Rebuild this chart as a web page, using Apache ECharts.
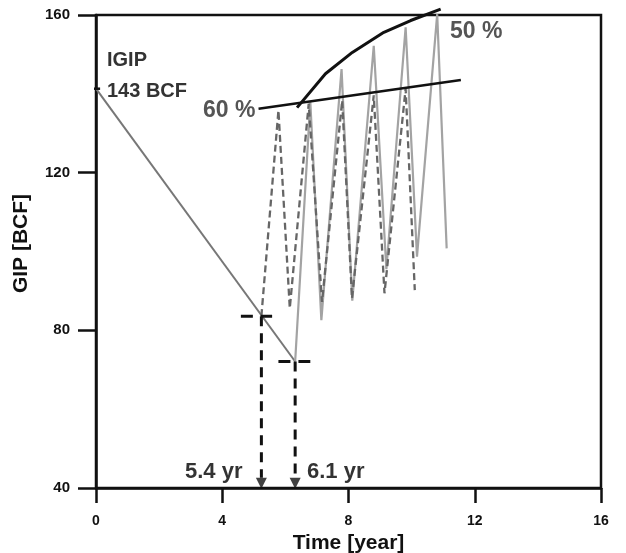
<!DOCTYPE html>
<html>
<head>
<meta charset="utf-8">
<script src="https://cdn.jsdelivr.net/npm/echarts@6/dist/echarts.min.js"></script>
<style>
  html, body { margin: 0; padding: 0; background: #fff; }
  #chart { width: 626px; height: 553px; }
</style>
</head>
<body>
<div id="chart"></div>
<script>
// values (time in years, GIP in BCF)
const igip = 141.3
const declineLine = [[0, igip], [6.31, 72.1]]
const cycles50 = [[6.31, 72.1], [6.79, 137.9], [7.14, 82.6], [7.78, 146.3], [8.12, 87.5], [8.8, 152.2], [9.2, 95.5], [9.81, 156.9], [10.17, 98.7], [10.81, 160.2], [11.11, 100.8]]
const cycles60 = [[5.24, 83.6], [5.78, 135.8], [6.14, 85.6], [6.74, 137.5], [7.16, 87.2], [7.8, 138.3], [8.11, 88.1], [8.8, 139.6], [9.14, 89.4], [9.81, 141.3], [10.1, 90.2]]
const trend60 = [[5.15, 136.2], [11.56, 143.5]]
const trend50 = [[6.37, 136.5], [7.27, 145.1], [8.12, 150.5], [9.12, 155.6], [9.97, 158.6], [10.92, 161.5]]
const startTimes = [5.24, 6.31]
const startGip = [83.6, 72.1]
const crossHalfLeft = [0.65, 0.53]
const crossHalfRight = [0.34, 0.48]
const igipMark = [[-0.41, igip], [0.13, igip]]
const xTicks = [0, 16, 4]
const yTicks = [40, 160, 40]

const font = 'Liberation Sans, Arial, sans-serif'
const chart = echarts.init(document.getElementById('chart'))

function plain(name, data, color, width, type, clip) {
  return {
    name: name,
    type: 'line',
    data: data,
    symbol: 'none',
    clip: clip,
    silent: true,
    animation: false,
    lineStyle: { color: color, width: width, type: type }
  }
}

const series = [
  plain('decline', declineLine, '#777', 2, 'solid', true),
  plain('cycles 50', cycles50, '#a3a3a3', 2.2, 'solid', false),
  plain('cycles 60', cycles60, '#666', 2.3, [7, 4], true),
  plain('trend 60', trend60, '#111', 2.5, 'solid', false),
  plain('trend 50', trend50, '#111', 3, 'solid', false),
  plain('igip mark', igipMark, '#111', 2.5, 'solid', false)
]

startTimes.forEach((t, i) => {
  series.push(plain('cross ' + i, [[t - crossHalfLeft[i], startGip[i]], [t + crossHalfRight[i], startGip[i]]], '#111', 3, [12, 8], false))
  series.push(plain('drop ' + i, [[t, startGip[i]], [t, 42.6]], '#111', 3, [10, 7], false))
})

series.push({
  type: 'scatter',
  data: startTimes.map(t => [t, 41.2]),
  symbol: 'triangle',
  symbolRotate: 180,
  symbolSize: [11, 11],
  itemStyle: { color: '#111' },
  clip: false,
  silent: true,
  animation: false
})

function txt(text, x, y, size, color) {
  return {
    type: 'text',
    left: x,
    top: y - size * 0.6,
    style: { text: text, font: 'bold ' + size + 'px ' + font, fill: color }
  }
}

chart.setOption({
  backgroundColor: '#fff',
  grid: {
    left: 96, right: 25, top: 15, bottom: 65,
    show: true, borderColor: '#111', borderWidth: 2.5,
    outerBoundsMode: 'none'
  },
  xAxis: {
    type: 'value',
    min: xTicks[0], max: xTicks[1], interval: xTicks[2],
    name: 'Time [year]',
    nameLocation: 'middle',
    nameGap: 38,
    nameTextStyle: { fontFamily: font, fontWeight: 'bold', fontSize: 21, color: '#111' },
    axisLine: { lineStyle: { color: '#111', width: 2.5 } },
    axisTick: { length: 15, lineStyle: { color: '#111', width: 2.5 } },
    axisLabel: { margin: 26, fontFamily: font, fontWeight: 'bold', fontSize: 14, color: '#111' },
    splitLine: { show: false }
  },
  yAxis: {
    type: 'value',
    min: yTicks[0], max: yTicks[1], interval: yTicks[2],
    name: 'GIP [BCF]',
    nameLocation: 'middle',
    nameGap: 64,
    nameTextStyle: { fontFamily: font, fontWeight: 'bold', fontSize: 21, color: '#111', padding: [0, 0, 0, 16] },
    axisLine: { lineStyle: { color: '#111', width: 2.5 } },
    axisTick: { length: 18, lineStyle: { color: '#111', width: 2.5 } },
    axisLabel: { margin: 26, fontFamily: font, fontWeight: 'bold', fontSize: 15, color: '#111' },
    splitLine: { show: false }
  },
  graphic: [
    txt('IGIP', 107, 62, 20, '#333'),
    txt('143 BCF', 107, 93, 20, '#333'),
    txt('60 %', 203, 113, 23, '#555'),
    txt('50 %', 450, 34, 23, '#555'),
    txt('5.4 yr', 185, 474, 22, '#333'),
    txt('6.1 yr', 307, 474, 22, '#333')
  ],
  series: series
})
</script>
</body>
</html>
